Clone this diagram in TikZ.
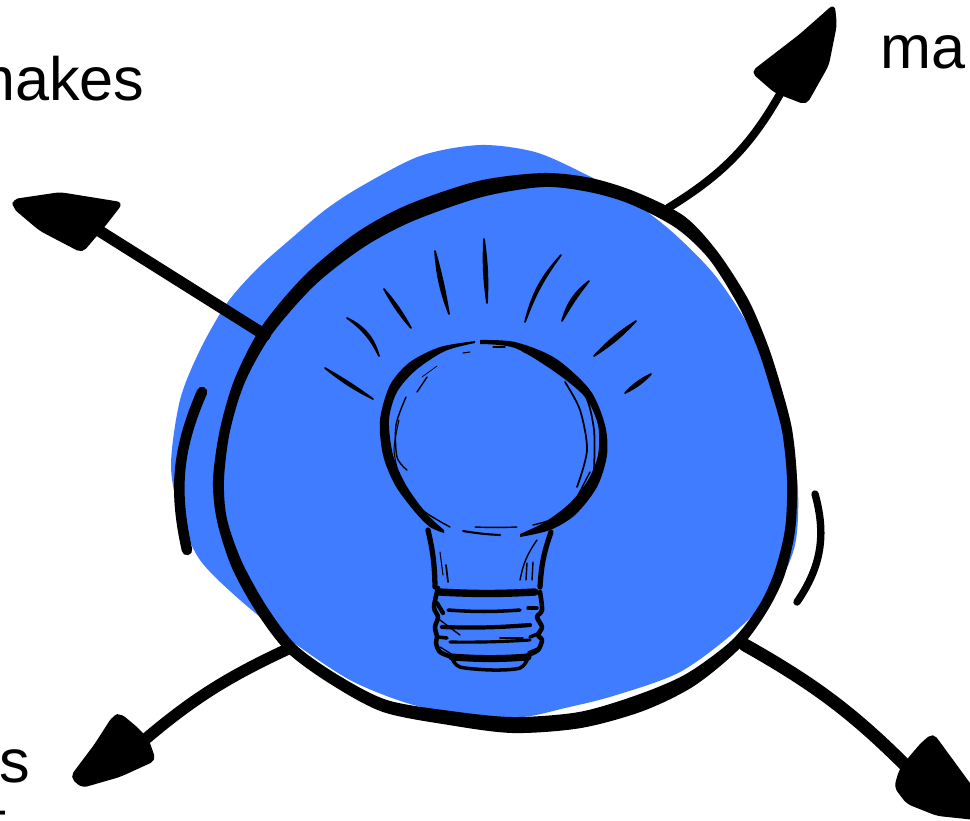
\documentclass[tikz,border=0pt]{standalone}
\usepackage{fontspec}
\setmainfont{Liberation Sans}
\definecolor{bulbblue}{RGB}{64,124,255}
\begin{document}
\begin{tikzpicture}[x=0.01cm, y=-0.01cm, line cap=round, line join=round]
    \tikzset{
      ink/.style={draw=black, line width=#1},
      ink/.default=1pt,
      head/.style={fill=black, draw=black, line width=0.5pt, rounded corners=1.5pt},
      word/.style={font=\fontsize{17.4}{20}\selectfont, inner sep=0pt}
    }
    \useasboundingbox (0,0) rectangle (970,820);
    \clip (0,0) rectangle (970,820);
    % blue patch
    \fill[bulbblue] plot[smooth cycle] coordinates {
      (480,145) (535,152) (583,173) (625,196) (670,230) (713,273) (748,325) (775,385)
      (790,435) (798,490) (795,545) (775,590) (737,630) (680,672) (613,696) (565,708)
      (523,717) (470,716) (410,704) (350,680) (290,640) (240,600) (200,560) (180,515)
      (171,465) (180,400) (200,350) (227,303) (258,268) (293,237) (325,210) (360,187) (420,156)};
    % ring, outer edge then inner edge
    \fill[even odd rule] plot[smooth cycle] coordinates {
        (478,181) (543,173) (591,178) (636,192) (684,216) (717,251) (748,299) (767,343)
        (780,383) (792,429) (797,480) (795,531) (784,577) (766,613) (739,649) (694,686)
        (643,711) (581,728) (513,733) (449,725) (383,712) (332,685) (288,653) (257,613)
        (232,568) (217,521) (213,480) (220,429) (235,378) (262,326) (305,275) (356,233) (407,205)}
      plot[smooth cycle] coordinates {
        (482,197) (543,187) (589,192) (630,204) (676,228) (709,259) (738,305) (757,347)
        (770,387) (782,431) (787,480) (785,529) (774,573) (758,607) (731,641) (686,674)
        (637,695) (579,712) (513,717) (451,711) (387,700) (338,675) (296,645) (267,607)
        (242,562) (227,519) (224,480) (230,431) (245,382) (272,334) (315,285) (364,247) (413,221)};
    % side strokes
    \draw[ink=3pt] (202,392) to[bend right=18] (187,550);
    \draw[ink=2.1pt] (815,494) to[bend left=25] (797,602);
    % arrows
    \coordinate (ringne) at (668,208);
    \coordinate (tipne) at (785,85);
    \coordinate (ringnw) at (265,335);
    \coordinate (tipnw) at (90,225);
    \coordinate (ringsw) at (290,648);
    \coordinate (tipsw) at (135,748);
    \coordinate (ringse) at (745,645);
    \coordinate (tipse) at (915,775);
    \draw[ink=2.3pt] (ringne) to[bend right=15] (tipne);
    \draw[ink=3.3pt] (ringnw) -- (tipnw);
    \draw[ink=3.3pt] (ringsw) to[bend right=8] (tipsw);
    \draw[ink=3.7pt] (ringse) to[bend left=8] (tipse);
    \fill[head] (752,72) -- (800,35) -- (834,5) -- (836,25) -- (828,65) -- (806,104) -- (775,92) -- cycle;
    \fill[head] (13,200) -- (60,193) -- (122,203) -- (105,225) -- (82,252) -- (40,230) -- (14,208) -- cycle;
    \fill[head] (113,717) -- (120,714) -- (137,728) -- (148,740) -- (155,760) -- (120,776) -- (82,787) -- (71,777) -- (95,745) -- cycle;
    \fill[head] (933,734) -- (922,743) -- (910,757) -- (900,770) -- (895,787) -- (907,803) -- (937,815) -- (975,819) -- (985,805) -- cycle;
    % rays
    \foreach \xa/\ya/\xb/\yb/\bl/\br in {325/368/373/399/3/6, 347/318/379/356/24/-14,
        384/289/411/328/6/6, 435/251/449/314/3/8, 484/239/487/303/5/5,
        561/255/525/322/-8/14, 589/281/562/321/-4/18, 636/321/594/356/7/7, 651/374/625/393/10/10}
      \filldraw[line width=0.5pt] (\xa,\ya) to[bend left=\bl] (\xb,\yb) to[bend left=\br] (\xa,\ya);
    % glass
    \fill plot[smooth] coordinates {(475,341) (440,347) (410,362) (390,385) (380,420)
        (383,455) (395,485) (415,512) (430,527) (444,533)}
      -- plot[smooth] coordinates {(444,530) (426,513) (406,485) (393,455) (389,420)
        (397,392) (416,370) (445,351) (475,343)} -- cycle;
    \fill plot[smooth] coordinates {(480,340) (515,342) (555,358) (590,390) (605,425)
        (607,455) (597,487) (575,515) (550,530) (520,537)}
      -- plot[smooth] coordinates {(520,534) (545,522) (570,503) (588,480) (598,455)
        (598,425) (585,397) (555,372) (515,348) (480,344)} -- cycle;
    % thin lines in the glass
    \draw[ink=0.5pt] plot[smooth] coordinates {(565,382) (580,410) (587,450) (577,487)};
    \draw[ink=0.5pt] plot[smooth] coordinates {(523,351) (560,370) (585,395) (594,430) (594,470)};
    \draw[ink=0.4pt] plot[smooth] coordinates {(406,397) (396,425) (397,457) (407,470)};
    \draw[ink=0.3pt] plot[smooth] coordinates {(399,420) (394,450) (400,480)};
    \draw[ink=0.4pt] (417,392) -- (427,377);
    \draw[ink=0.2pt] (422,377) -- (437,366);
    \draw[ink=0.3pt] (463,353) -- (470,352);
    \draw[ink=0.3pt] (493,347) -- (505,347);
    \draw[ink=0.4pt] plot[smooth] coordinates {(407,493) (425,512) (450,527)};
    \draw[ink=0.6pt] (463,531) to[bend right=3] (500,535);
    \draw[ink=0.4pt] (475,527) to[bend right=2] (517,527);
    \draw[ink=0.4pt] (533,525) to[bend right=8] (567,512);
    \draw[ink=0.4pt] (590,472) -- (577,497);
    % neck
    \draw[ink=1.5pt] (428,530) to[bend left=6] (435,587);
    \draw[ink=1.5pt] (551,532) to[bend right=8] (540,587);
    \draw[ink=0.3pt] (440,552) -- (443,575);
    \draw[ink=0.5pt] (446,565) -- (448,582);
    \draw[ink=0.4pt] (537,540) to[bend right=12] (520,580);
    \draw[ink=0.4pt] (527,563) -- (526,580);
    \draw[ink=0.4pt] (533,562) -- (532,580);
    % screw base
    \draw[ink=2.1pt] (439,592) to[bend right=3] (535,592);
    \draw[ink=1pt] (448,610) to[bend right=4] (520,610);
    \draw[ink=1.2pt] (442,627) to[bend right=3] (530,625);
    \draw[ink=0.9pt] (450,642) to[bend right=2] (530,640);
    \draw[ink=2pt] (452,657) to[bend right=4] (528,657);
    \draw[ink=1pt] plot[smooth] coordinates {(452,658) (460,667) (493,670) (520,668) (528,658)};
    \draw[ink=1.3pt] plot[smooth] coordinates {(438,588) (434,607) (438,617) (435,627) (437,637) (436,643) (440,652) (452,657)};
    \draw[ink=1.3pt] plot[smooth] coordinates {(540,592) (542,610) (537,617) (542,627) (538,635) (542,640) (538,650) (528,655)};
    \draw[ink=1.2pt] (437,603) -- (443,613);
    \draw[ink=1pt] (528,608) -- (537,608);
    \draw[ink=1pt] (438,637) -- (447,638);
    \draw[ink=1pt] (530,637) -- (540,633);
    \draw[ink=0.4pt] (440,620) -- (460,635);
    \draw[ink=0.5pt] (500,638) -- (523,638);
    \draw[ink=0.4pt] (440,647) -- (453,655);
    \draw[ink=0.4pt] (528,652) -- (540,647);
    % words
    \node[word, anchor=base east] (makesleft) at (145,100) {makes};
    \node[word, anchor=base west] (makesright) at (880,68) {ma};
    \node[word, anchor=base east] (wordend) at (31,782) {s};
    \node[word, anchor=base west] (wordnext) at (-11,843) {t};
  \end{tikzpicture}
\end{document}
